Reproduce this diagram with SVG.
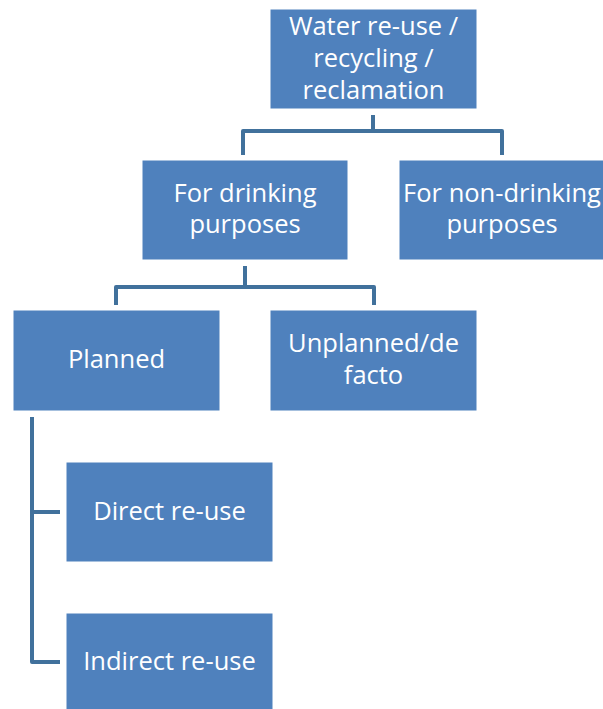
<svg xmlns="http://www.w3.org/2000/svg" width="603" height="709" viewBox="0 0 603 709">
  <style>
    .box { fill: #4F81BD; stroke: #FFFFFF; stroke-width: 1; }
    .lbl { fill: #FFFFFF; font-family: "Open Sans", "Liberation Sans", Arial, sans-serif; font-size: 25.5px; text-anchor: middle; }
    .conn { fill: none; stroke: #41719C; stroke-width: 4; stroke-linejoin: round; stroke-linecap: butt; }
  </style>
  <rect width="603" height="709" fill="#FFFFFF"/>

  <g id="connectors">
    <path class="conn" d="M373,115 V131 M243,155 V131 H502 V155"/>
    <path class="conn" d="M245,266 V287 M116,305 V287 H374 V305"/>
    <path class="conn" d="M32,417 V662 H60 M32,512 H60"/>
  </g>

  <g id="root">
    <rect class="box" x="270" y="9" width="207" height="100"/>
    <text class="lbl" x="373.5" y="35">Water re-use /</text>
    <text class="lbl" x="373.5" y="67">recycling /</text>
    <text class="lbl" x="373.5" y="99">reclamation</text>
  </g>

  <g id="drinking">
    <rect class="box" x="142" y="160" width="206" height="100"/>
    <text class="lbl" x="245" y="202">For drinking</text>
    <text class="lbl" x="245" y="233">purposes</text>
  </g>

  <g id="non-drinking">
    <rect class="box" x="399" y="160" width="205" height="100"/>
    <text class="lbl" x="502" y="202">For non-drinking</text>
    <text class="lbl" x="502" y="233">purposes</text>
  </g>

  <g id="planned">
    <rect class="box" x="13" y="310" width="207" height="101"/>
    <text class="lbl" x="116.5" y="368">Planned</text>
  </g>

  <g id="unplanned">
    <rect class="box" x="270" y="310" width="207" height="101"/>
    <text class="lbl" x="373.5" y="352">Unplanned/de</text>
    <text class="lbl" x="373.5" y="384">facto</text>
  </g>

  <g id="direct">
    <rect class="box" x="66" y="462" width="207" height="100"/>
    <text class="lbl" x="169.5" y="520">Direct re-use</text>
  </g>

  <g id="indirect">
    <rect class="box" x="66" y="613" width="207" height="100"/>
    <text class="lbl" x="169.5" y="670">Indirect re-use</text>
  </g>
</svg>
